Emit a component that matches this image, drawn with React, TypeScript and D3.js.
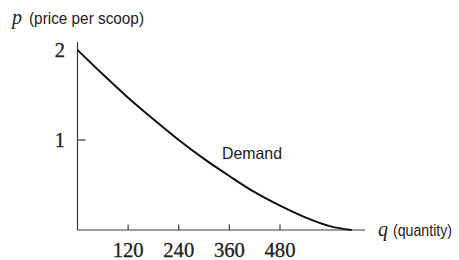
import React from "react";
import * as d3 from "d3";

// demand curve
const quantity = [0, 60, 120, 180, 240, 300, 360, 420, 480, 540, 600, 650];
const price = [2, 1.73, 1.47, 1.23, 1.0, 0.79, 0.6, 0.42, 0.27, 0.14, 0.04, 0];

const xTicks = [120, 240, 360, 480];
const yTicks = [1, 2];

const serif = "'Liberation Serif', 'Times New Roman', serif";
const sans = "'Liberation Sans', Arial, sans-serif";

const App = () => {
  const xScale = d3.scaleLinear().domain([0, 480]).range([77.5, 280]);
  const yScale = d3.scaleLinear().domain([0, 2]).range([230, 50]);

  const xMax = xScale.invert(365);
  const yMax = yScale.invert(42);

  const line = d3
    .line<number>()
    .x((d, i) => xScale(quantity[i]))
    .y((d) => yScale(d))
    .curve(d3.curveMonotoneX);

  const axisColor = "#3a3a3a";

  return (
    <svg
      width={459}
      height={260}
      style={{ position: "absolute", left: 0, top: 0, background: "#fff" }}
    >
      {/* axes */}
      <line
        x1={xScale(0)}
        y1={yScale(0)}
        x2={xScale(xMax)}
        y2={yScale(0)}
        stroke={axisColor}
        strokeWidth={1.2}
      />
      <line
        x1={xScale(0)}
        y1={yScale(0)}
        x2={xScale(0)}
        y2={yScale(yMax)}
        stroke={axisColor}
        strokeWidth={1.2}
      />
      {xTicks.map((t) => (
        <g key={t}>
          <line
            x1={xScale(t)}
            y1={yScale(0)}
            x2={xScale(t)}
            y2={yScale(0) - 5.5}
            stroke={axisColor}
            strokeWidth={1.2}
          />
          <text
            x={xScale(t)}
            y={257}
            textAnchor="middle"
            fontFamily={serif}
            fontSize={20.5}
            textLength={31}
            lengthAdjust="spacingAndGlyphs"
            fill="#222"
            stroke="#222"
            strokeWidth={0.3}
          >
            {t}
          </text>
        </g>
      ))}
      {yTicks.map((t) => (
        <g key={t}>
          {t !== 2 && (
            <line
              x1={xScale(0)}
              y1={yScale(t)}
              x2={xScale(0) + 8}
              y2={yScale(t)}
              stroke={axisColor}
              strokeWidth={1.2}
            />
          )}
          <text
            x={65}
            y={yScale(t) + 7}
            textAnchor="end"
            fontFamily={serif}
            fontSize={20.5}
            fill="#222"
            stroke="#222"
            strokeWidth={0.3}
          >
            {t}
          </text>
        </g>
      ))}

      {/* demand curve */}
      <path d={line(price) || ""} fill="none" stroke="#111" strokeWidth={2} />
      <text
        x={222}
        y={159}
        fontFamily={sans}
        fontSize={16.5}
        textLength={60}
        lengthAdjust="spacingAndGlyphs"
        fill="#222"
      >
        Demand
      </text>

      {/* axis titles */}
      <text x={12} y={24} fill="#222" fontFamily={serif} fontStyle="italic" fontSize={20}>
        p
      </text>
      <text
        x={29}
        y={24}
        fill="#222"
        fontFamily={sans}
        fontSize={16.5}
        textLength={115}
        lengthAdjust="spacingAndGlyphs"
      >
        (price per scoop)
      </text>
      <text x={378} y={236} fill="#222" fontFamily={serif} fontStyle="italic" fontSize={20}>
        q
      </text>
      <text
        x={393}
        y={236}
        fill="#222"
        fontFamily={sans}
        fontSize={16}
        textLength={59}
        lengthAdjust="spacingAndGlyphs"
      >
        (quantity)
      </text>
    </svg>
  );
};

export default App;
